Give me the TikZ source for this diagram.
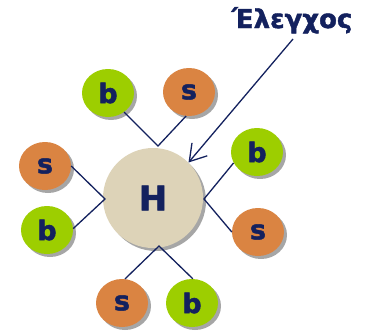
\documentclass[tikz,border=0pt]{standalone}
\usepackage{fontspec}
\setmainfont{DejaVu Sans}[BoldFeatures={FakeBold=1.6}]
\usetikzlibrary{shapes.geometric,shadows,arrows.meta}
\definecolor{navy}{HTML}{13215E}
\definecolor{leaf}{HTML}{9DCE00}
\definecolor{clay}{HTML}{DA8442}
\definecolor{sand}{HTML}{DDD3B8}
\tikzset{
  disc/.style={ellipse, minimum width=52pt, minimum height=48pt, inner sep=0pt,
    font=\bfseries\fontsize{27}{27}\selectfont, text=navy,
    drop shadow={shadow xshift=3pt, shadow yshift=-3pt, fill=black, opacity=0.35}},
  bdisc/.style={disc, fill=leaf},
  sdisc/.style={disc, fill=clay},
  hub/.style={circle, minimum size=100pt, inner sep=0pt, fill=sand,
    font=\bfseries\fontsize{34}{34}\selectfont, text=navy,
    drop shadow={shadow xshift=3pt, shadow yshift=-3pt, fill=black, opacity=0.35}},
  link/.style={draw=navy, line width=1.3pt},
  pointer/.style={draw=navy, line width=1.3pt, -{Straight Barb[length=16pt, width=20pt, line width=1.3pt]}},
}
\begin{document}
\begin{tikzpicture}[x=1pt, y=-1pt]
  \useasboundingbox (0,0) rectangle (366,330);
  \fill[white] (0,0) rectangle (366,330);

  % central hub
  \node[hub] (h) at (153,198) {H};

  % satellites
  \node[bdisc] (bt) at (108,93) {b};
  \node[sdisc] (st) at (189,92) {s};
  \node[sdisc] (sl) at (45,166) {s};
  \node[bdisc] (bl) at (47,230) {b};
  \node[bdisc] (br) at (257,152) {b};
  \node[sdisc] (sr) at (258,232) {s};
  \node[sdisc] (sb) at (122,303) {s};
  \node[bdisc] (bb) at (192,303) {b};

  % junction points next to the hub
  \coordinate (jt) at (158,146);
  \coordinate (jl) at (105,199);
  \coordinate (jr) at (204,199);
  \coordinate (jb) at (159,246);

  \draw[link] (bt.-50) -- (jt) -- (st.-97);
  \draw[link] (sl.0) -- (jl) -- (bl.3);
  \draw[link] (br.-155) -- (jr) -- (sr.180);
  \draw[link] (sb.83) -- (jb) -- (bb.88);

  % label and its pointer
  \node[anchor=base, inner sep=0pt, text=navy, font=\bfseries\fontsize{26}{26}\selectfont] (lbl) at (292,28) {Έλεγχος};
  \coordinate (astart) at (293,39);
  \draw[pointer] (astart) -- (h.45);
\end{tikzpicture}
\end{document}
